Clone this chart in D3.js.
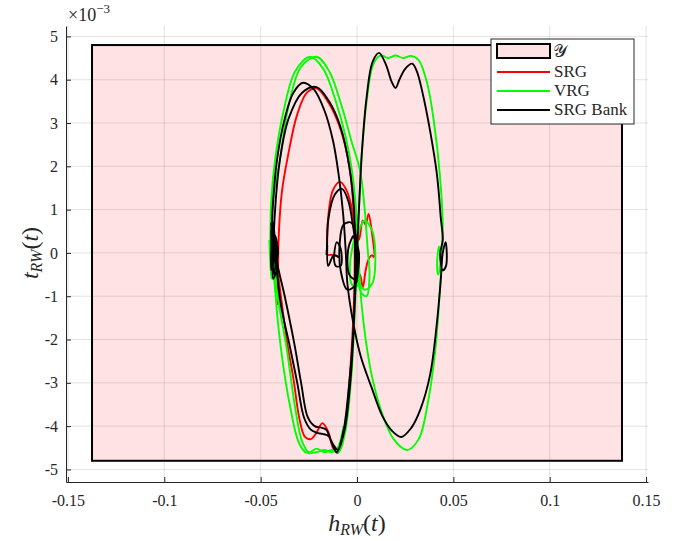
<!DOCTYPE html>
<html>
<head>
<meta charset="utf-8">
<script src="https://cdn.jsdelivr.net/npm/d3@7"></script>
<style>
  body { margin: 0; background: #fff; }
  text { font-family: "Liberation Serif", "DejaVu Serif", serif; fill: #262626; }
</style>
</head>
<body>
<svg width="683" height="541"></svg>
<script>
// ticks
var xTicks = [-0.15, -0.1, -0.05, 0, 0.05, 0.1, 0.15];
var yTicks = [-5, -4, -3, -2, -1, 0, 1, 2, 3, 4, 5];

// admissible region Y (h, t in 1e-3)
var regionH = [-0.1375, 0.1375];
var regionT = [-4.8, 4.8];

// SRG trajectory pieces [h, t*1e3]
var srgPaths = [
  [[-0.041, -0.4], [-0.0405, 0.5], [-0.039, 1.4], [-0.036, 2.2], [-0.031, 3.2], [-0.026, 3.7], [-0.021, 3.8],
   [-0.0145, 3.45], [-0.0085, 2.85], [-0.004, 2.0], [-0.0018, 1.0], [-0.0012, 0.0], [-0.0015, -1.0],
   [-0.0025, -2.0], [-0.004, -3.0], [-0.0065, -4.1], [-0.0102, -4.62], [-0.0125, -4.5], [-0.015, -4.12],
   [-0.018, -3.93], [-0.021, -4.15], [-0.024, -4.3], [-0.027, -4.25], [-0.030, -3.8], [-0.033, -2.9],
   [-0.0365, -2.0], [-0.0395, -1.0], [-0.0415, -0.3], [-0.0425, 0.1], [-0.0415, -0.5], [-0.041, -1.2]],
  [[-0.0156, -0.05], [-0.012, -0.05], [-0.0095, -0.1]],
  [[-0.0156, 0.0], [-0.015, 0.8], [-0.0125, 1.45], [-0.0088, 1.64], [-0.0055, 1.45], [-0.003, 1.1], [-0.001, 0.6],
   [0.001, 0.3], [0.003, 0.75], [0.0045, 0.65], [0.006, 0.9], [0.0075, 0.55], [0.0088, -0.1], [0.0078, -0.05],
   [0.006, -0.15], [0.0045, -0.4], [0.003, -0.8], [0.0015, -0.5], [0.0, -0.6], [-0.001, -0.2]]
];

// VRG trajectory pieces
var vrgPaths = [
  [[-0.045, 0.0], [-0.0445, 1.2], [-0.0425, 2.15], [-0.038, 3.3], [-0.032, 4.2], [-0.0244, 4.53], [-0.0175, 4.25],
   [-0.011, 3.5], [-0.006, 2.7], [-0.0026, 1.9], [-0.0005, 1.0], [0.0005, 0.2], [0.002, -1.0], [0.0045, -2.0],
   [0.008, -2.9], [0.013, -3.7], [0.019, -4.3], [0.026, -4.55], [0.032, -4.3], [0.037, -3.4], [0.0405, -2.3],
   [0.0425, -1.2], [0.0435, -0.4], [0.0425, 0.15], [0.0415, -0.3], [0.0422, -0.5], [0.0438, 0.0], [0.0445, 0.6],
   [0.043, 1.8], [0.040, 3.0], [0.0365, 3.9], [0.032, 4.45], [0.028, 4.55], [0.024, 4.5], [0.020, 4.56],
   [0.016, 4.5], [0.013, 4.56], [0.011, 4.53], [0.008, 4.3], [0.005, 3.5], [0.0025, 2.3], [0.001, 1.0],
   [0.0, 0.0], [-0.0008, -1.0], [-0.0018, -2.0], [-0.0032, -3.0], [-0.006, -4.1], [-0.0095, -4.6],
   [-0.013, -4.55], [-0.017, -4.6], [-0.021, -4.52], [-0.025, -4.6], [-0.0285, -4.35], [-0.032, -3.6],
   [-0.0365, -2.2], [-0.0405, -1.2], [-0.0435, -0.3], [-0.0445, 0.0], [-0.0435, 1.2], [-0.040, 2.15],
   [-0.0355, 3.4], [-0.029, 4.3], [-0.021, 4.53], [-0.0145, 4.2], [-0.008, 3.4], [-0.003, 2.6], [0.0016, 1.9],
   [0.004, 1.0], [0.0055, 0.1], [0.0065, -0.5], [0.005, -1.0], [0.002, -0.9], [0.0, -0.3], [0.001, 0.5],
   [0.004, 0.75], [0.008, 0.5], [0.0095, -0.2], [0.008, -0.7], [0.004, -0.85], [0.0005, -0.6], [-0.001, 0.0]],
  [[-0.043, 0.2], [-0.0425, -0.8], [-0.0395, -2.2], [-0.0345, -3.6], [-0.030, -4.4], [-0.026, -4.62],
   [-0.021, -4.6], [-0.017, -4.55], [-0.013, -4.6], [-0.010, -4.5], [-0.007, -4.0]],
  [[-0.0015, 0.3], [-0.0035, -0.2], [-0.003, -0.7], [-0.0005, -0.8], [0.0005, -0.2], [-0.0015, 0.3]],
  [[-0.0455, 0.3], [-0.0445, -0.6], [-0.044, 0.4], [-0.0425, -0.9], [-0.0415, -0.2]]
];

// SRG Bank trajectory pieces
var bankPaths = [
  [[-0.0445, 0.0], [-0.0438, 1.0], [-0.0415, 2.15], [-0.0375, 3.1], [-0.033, 3.7], [-0.028, 3.93], [-0.0225, 3.78],
   [-0.017, 3.3], [-0.0125, 2.6], [-0.0095, 1.8], [-0.0072, 0.9], [-0.0058, 0.0], [-0.0050, -0.7], [-0.002, -1.6],
   [0.002, -2.4], [0.0075, -3.1], [0.013, -3.75], [0.018, -4.1], [0.023, -4.25], [0.028, -4.05], [0.033, -3.6],
   [0.038, -2.8], [0.0415, -1.6], [0.0435, -0.6], [0.0445, 0.0], [0.046, 0.25], [0.0462, -0.3], [0.0445, -0.4],
   [0.0432, 0.0], [0.0445, 0.3], [0.0435, 0.8], [0.0415, 1.8], [0.038, 2.8], [0.034, 3.7], [0.031, 4.2],
   [0.0286, 4.37], [0.025, 4.25], [0.022, 4.0], [0.020, 3.81], [0.018, 3.95], [0.015, 4.35], [0.0114, 4.62],
   [0.008, 4.4], [0.005, 3.6], [0.0025, 2.3], [0.001, 1.0], [0.0, 0.0], [-0.001, -1.0], [-0.002, -2.0],
   [-0.0035, -3.0], [-0.0065, -4.1], [-0.010, -4.55], [-0.012, -4.45], [-0.015, -4.22], [-0.018, -4.18],
   [-0.021, -4.15], [-0.024, -4.08], [-0.0275, -3.8], [-0.031, -3.0], [-0.0348, -2.17], [-0.0395, -1.2],
   [-0.042, -0.3], [-0.0435, 0.0], [-0.0445, 0.3], [-0.0425, 0.1], [-0.0435, -0.2], [-0.0425, 1.0],
   [-0.040, 2.15], [-0.0355, 3.1], [-0.0285, 3.7], [-0.021, 3.83], [-0.0145, 3.5], [-0.0085, 2.9],
   [-0.004, 2.0], [-0.0015, 1.0], [-0.001, 0.0], [-0.0012, -1.0], [-0.0022, -2.0], [-0.004, -3.0],
   [-0.007, -4.1], [-0.0105, -4.6], [-0.013, -4.4], [-0.016, -4.08], [-0.019, -4.03], [-0.022, -4.0],
   [-0.0255, -3.8], [-0.029, -3.0], [-0.0325, -2.1], [-0.0375, -1.0], [-0.0415, -0.2], [-0.0435, 0.7],
   [-0.0445, -0.4], [-0.043, -0.1]],
  [[-0.0445, 0.7], [-0.0435, -0.2], [-0.0445, 0.5], [-0.043, -0.5], [-0.0415, 0.2], [-0.0425, -0.3],
   [-0.041, 0.0], [-0.0425, 0.4], [-0.0435, -0.6], [-0.0415, -0.4]],
  [[-0.0158, -0.05], [-0.0155, 0.2], [-0.015, -0.3], [-0.012, -0.05], [-0.0095, -0.1]],
  [[-0.0155, 0.0], [-0.0148, 0.8], [-0.0115, 1.35], [-0.0078, 1.48], [-0.0045, 1.2], [-0.002, 0.6],
   [0.0, 0.0], [0.0005, -0.4], [-0.001, -0.75], [-0.005, -0.85], [-0.0085, -0.4], [-0.009, 0.2],
   [-0.007, 0.65], [-0.003, 0.7], [0.0, 0.2], [0.0, -0.3]],
  [[-0.012, -0.1], [-0.0105, 0.25], [-0.0085, 0.1], [-0.0085, -0.3], [-0.011, -0.3], [-0.012, -0.1]],
  [[-0.002, 0.4], [-0.0045, 0.1], [-0.004, -0.5], [-0.001, -0.6], [0.001, 0.0], [-0.002, 0.4]]
];

var series = [
  {name: "SRG", color: "#ff0000", paths: srgPaths},
  {name: "VRG", color: "#00ff00", paths: vrgPaths},
  {name: "SRG Bank", color: "#000000", paths: bankPaths}
];

function draw_chart() {
  var svg = d3.select("svg");
  var margin = {left: 66, right: 648, top: 26, bottom: 482};

  var x = d3.scaleLinear().domain([-0.151, 0.151]).range([margin.left, margin.right]);
  var y = d3.scaleLinear().domain([-5.29, 5.24]).range([margin.bottom, margin.top]);

  var plot = svg.append("g");

  // admissible set
  plot.append("rect")
    .attr("x", x(regionH[0]))
    .attr("y", y(regionT[1]))
    .attr("width", x(regionH[1]) - x(regionH[0]))
    .attr("height", y(regionT[0]) - y(regionT[1]))
    .attr("fill", "#ffe3e4")
    .attr("stroke", "#000")
    .attr("stroke-width", 2);

  // grid on top, faint
  var grid = plot.append("g").attr("stroke", "#262626").attr("stroke-opacity", 0.13).attr("stroke-width", 1);
  grid.selectAll(".gx").data(xTicks).enter().append("line")
    .attr("x1", d => x(d)).attr("x2", d => x(d))
    .attr("y1", margin.top).attr("y2", margin.bottom);
  grid.selectAll(".gy").data(yTicks).enter().append("line")
    .attr("x1", margin.left).attr("x2", margin.right)
    .attr("y1", d => y(d)).attr("y2", d => y(d));

  var line = d3.line()
    .x(d => x(d[0]))
    .y(d => y(d[1]))
    .curve(d3.curveCatmullRom.alpha(0.5));

  series.forEach(function(s) {
    plot.append("g").selectAll("path")
      .data(s.paths)
      .enter().append("path")
      .attr("d", line)
      .attr("fill", "none")
      .attr("stroke", s.color)
      .attr("stroke-width", 1.9)
      .attr("stroke-linejoin", "round");
  });

  // axes (matlab style, ticks inside)
  var xAxis = svg.append("g")
    .attr("transform", "translate(0," + margin.bottom + ")")
    .call(d3.axisBottom(x).tickValues(xTicks).tickSizeInner(-5).tickSizeOuter(0).tickPadding(10)
      .tickFormat(d => String(d)));
  var yAxis = svg.append("g")
    .attr("transform", "translate(" + margin.left + ",0)")
    .call(d3.axisLeft(y).tickValues(yTicks).tickSizeInner(-5).tickSizeOuter(0).tickPadding(8)
      .tickFormat(d => String(d)));

  [xAxis, yAxis].forEach(function(a) {
    a.select(".domain").attr("stroke", "#262626");
    a.selectAll(".tick line").attr("stroke", "#262626");
    a.selectAll(".tick text")
      .style("font-family", "'Liberation Serif', serif")
      .style("font-size", "16px")
      .attr("fill", "#262626");
  });
  xAxis.selectAll(".tick text").attr("dy", "0.9em");

  // exponent
  var expo = svg.append("text").attr("x", 68).attr("y", 21).style("font-size", "18px");
  expo.append("tspan").text("×10");
  expo.append("tspan").attr("dy", -8).style("font-size", "13px").text("−3");

  // axis labels
  var xl = svg.append("text").attr("x", 357).attr("y", 531).attr("text-anchor", "middle")
    .style("font-size", "24px");
  xl.append("tspan").style("font-style", "italic").text("h");
  xl.append("tspan").attr("dy", 4).style("font-size", "16px").style("font-style", "italic").text("RW");
  xl.append("tspan").attr("dy", -4).text("(");
  xl.append("tspan").style("font-style", "italic").text("t");
  xl.append("tspan").text(")");

  var yl = svg.append("text").attr("transform", "translate(38,253)rotate(-90)").attr("text-anchor", "middle")
    .style("font-size", "24px");
  yl.append("tspan").style("font-style", "italic").text("t");
  yl.append("tspan").attr("dy", 4).style("font-size", "16px").style("font-style", "italic").text("RW");
  yl.append("tspan").attr("dy", -4).text("(");
  yl.append("tspan").style("font-style", "italic").text("t");
  yl.append("tspan").text(")");

  // legend
  var lg = svg.append("g").attr("transform", "translate(491,39)");
  lg.append("rect").attr("width", 143).attr("height", 85)
    .attr("fill", "#fff").attr("stroke", "#262626").attr("stroke-width", 1);
  lg.append("rect").attr("x", 6).attr("y", 5).attr("width", 53).attr("height", 14)
    .attr("fill", "#ffe3e4").attr("stroke", "#000").attr("stroke-width", 2);
  lg.append("text").attr("x", 62).attr("y", 18).style("font-size", "18px")
    .text("𝒴");
  series.forEach(function(s, i) {
    var yy = 33 + i * 19;
    lg.append("line").attr("x1", 6).attr("x2", 59).attr("y1", yy).attr("y2", yy)
      .attr("stroke", s.color).attr("stroke-width", 1.8);
    lg.append("text").attr("x", 63).attr("y", yy + 5).style("font-size", "17px").text(s.name);
  });
}

draw_chart();
</script>
</body>
</html>
